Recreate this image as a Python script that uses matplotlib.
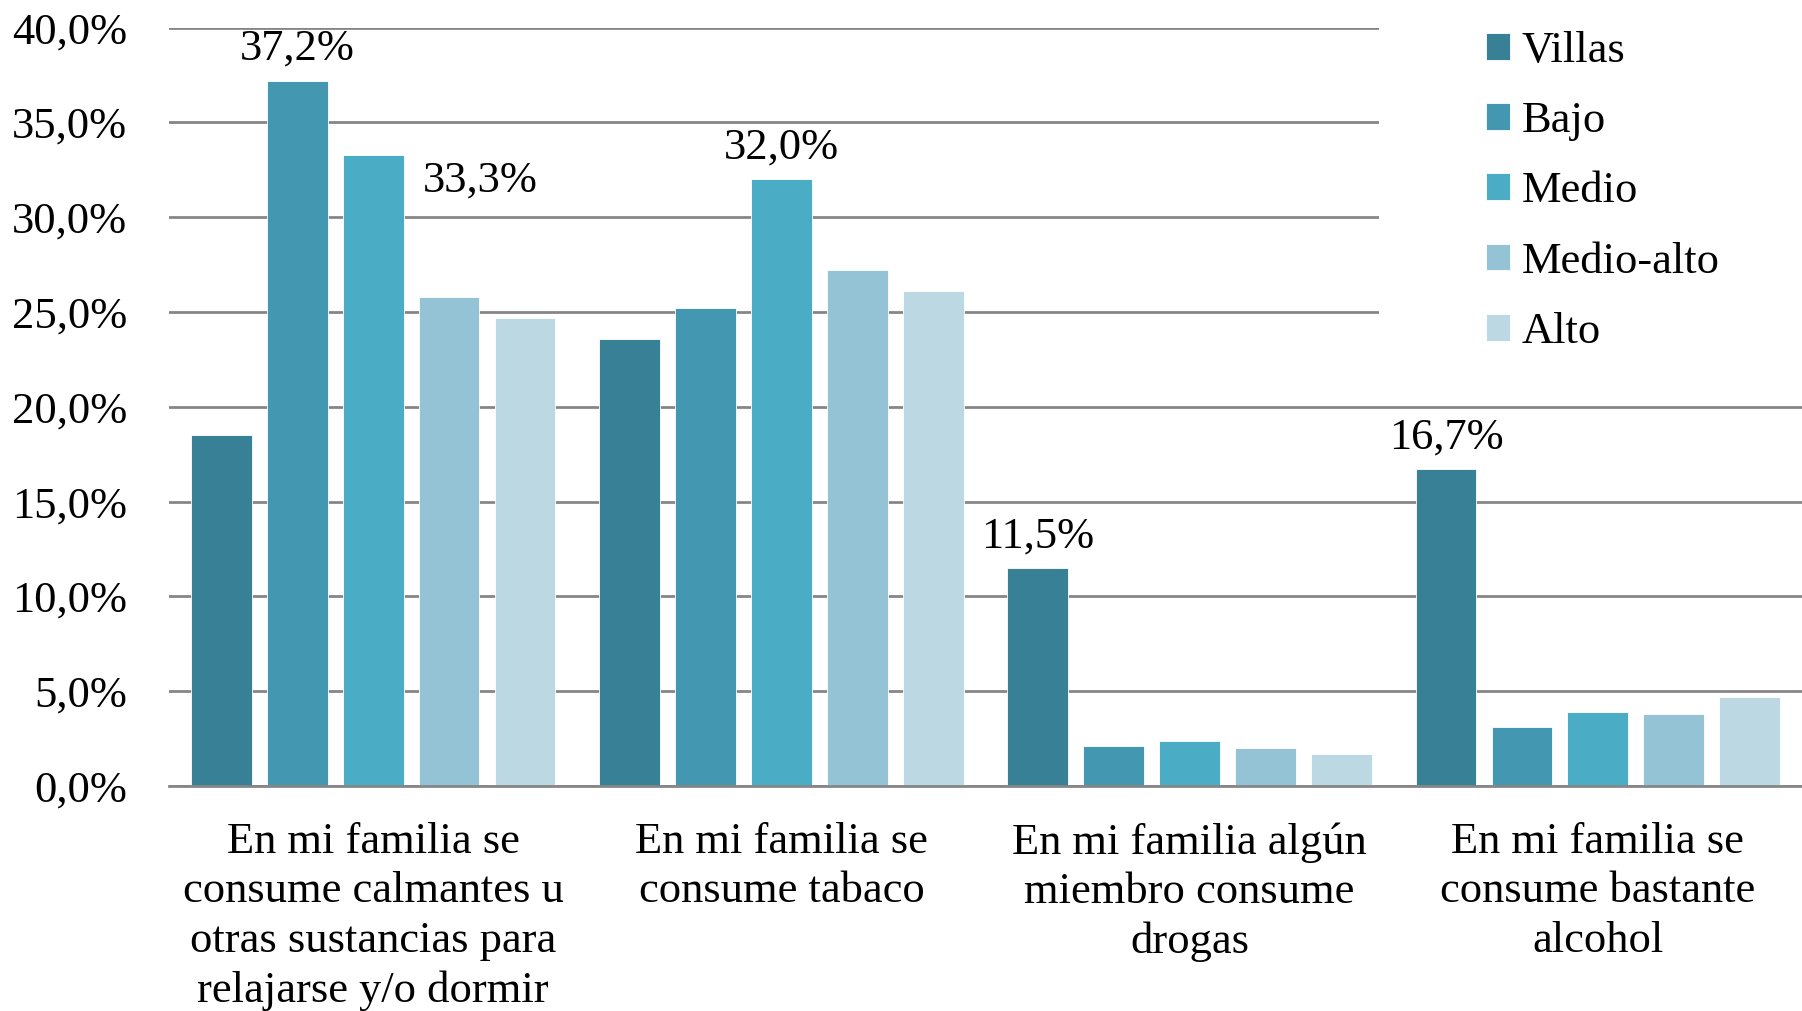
import numpy as np
import matplotlib.pyplot as plt
from matplotlib.patches import Rectangle

plt.rcParams['font.family'] = ['Liberation Serif', 'DejaVu Serif']

# datos
categorias = ['En mi familia se\nconsume calmantes u\notras sustancias para\nrelajarse y/o dormir',
              'En mi familia se\nconsume tabaco',
              'En mi familia algún\nmiembro consume\ndrogas',
              'En mi familia se\nconsume bastante\nalcohol']
series = ['Villas', 'Bajo', 'Medio', 'Medio-alto', 'Alto']
villas = [18.5, 23.6, 11.5, 16.7]
bajo = [37.2, 25.2, 2.1, 3.1]
medio = [33.3, 32.0, 2.4, 3.9]
medio_alto = [25.8, 27.2, 2.0, 3.8]
alto = [24.7, 26.1, 1.7, 4.7]
valores = [villas, bajo, medio, medio_alto, alto]
yticks = [0, 5, 10, 15, 20, 25, 30, 35, 40]

colores = ['#378096', '#4397B0', '#4BACC6', '#93C3D4', '#BCD8E3']
fs = 32

fig = plt.figure(figsize=(18.02, 10.11), dpi=100)
ax = fig.add_axes([0.0938, 0.2225, 0.9062, 0.7502])

x = np.arange(len(categorias))
paso = 0.186
ancho = 0.149
barras = []
for j, (nom, vals) in enumerate(zip(series, valores)):
    b = ax.bar(x + (j - 2) * paso, vals, ancho, color=colores[j], label=nom,
               edgecolor='white', linewidth=0.6, zorder=2)
    barras.append(b)

ax.set_xlim(-0.5, 3.5)
ax.set_ylim(0, 40)
ax.set_yticks(yticks)
ax.set_yticklabels([f'{v:.1f}%'.replace('.', ',') for v in yticks])
ax.set_xticks(x)
ax.set_xticklabels(categorias, linespacing=1.3)
ax.tick_params(axis='both', length=0, labelsize=fs)
ax.tick_params(axis='y', pad=30)
ax.tick_params(axis='x', pad=26)

ax.grid(axis='y', color='#868686', linewidth=2, zorder=0.5)
ax.set_axisbelow(True)
for s in ['left', 'right', 'top']:
    ax.spines[s].set_visible(False)
ax.spines['bottom'].set_color('#868686')
ax.spines['bottom'].set_linewidth(2)

# etiquetas de datos
def etiqueta(i, j, dx=0, dy=23, va='center'):
    v = valores[j][i]
    ax.annotate(f'{v:.1f}%'.replace('.', ','), (x[i] + (j - 2) * paso, v),
                xytext=(dx, dy), textcoords='offset points',
                ha='center', va=va, fontsize=fs)

etiqueta(0, 1)
etiqueta(0, 2, dx=77, dy=-19)
etiqueta(1, 2)
etiqueta(2, 0)
etiqueta(3, 0)

# fondo blanco de la leyenda
ax.add_patch(Rectangle((0.741, 0.537), 0.3, 0.5, transform=ax.transAxes,
                       facecolor='white', edgecolor='none', zorder=1.5, clip_on=False))

fig.legend(handles=barras, labels=series, loc='upper left',
           bbox_to_anchor=(1486 / 1802, 1 - 31 / 1011), frameon=False,
           fontsize=fs, handlelength=0.55, handleheight=0.55,
           handletextpad=0.25, labelspacing=0.68, borderpad=0, borderaxespad=0)

fig.savefig('out.png', dpi=100)
